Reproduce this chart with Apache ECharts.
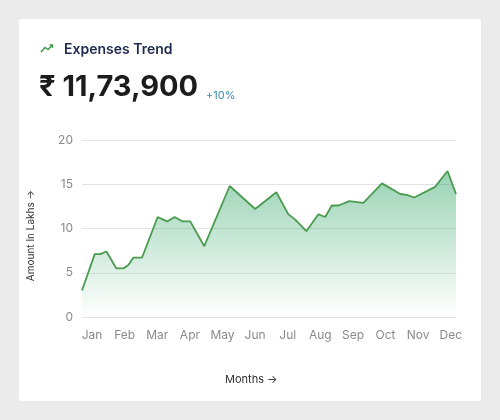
<!DOCTYPE html>
<html>
<head>
<meta charset="utf-8">
<script src="https://cdn.jsdelivr.net/npm/echarts@6/dist/echarts.min.js"></script>
<style>
  html, body { margin: 0; padding: 0; width: 500px; height: 420px; background: #ebebeb; overflow: hidden; }
  #card { position: absolute; left: 19px; top: 19px; width: 462px; height: 382px; background: #ffffff; border-radius: 3px; }
  #chart { position: absolute; left: 0; top: 0; width: 500px; height: 420px; }
</style>
</head>
<body>
<div id="card"></div>
<div id="chart"></div>
<script>
// Month tick labels
const months = ['Jan','Feb','Mar','Apr','May','Jun','Jul','Aug','Sep','Oct','Nov','Dec'];
// Positions of points in months (0 = Jan)
const xs = [-0.31, 0.08, 0.25, 0.44, 0.74, 0.97, 1.12, 1.26, 1.53, 2.01, 2.30, 2.53, 2.78, 3.01, 3.44, 4.22, 5.00, 5.65, 6.02, 6.23, 6.57, 6.94, 7.15, 7.35, 7.56, 7.89, 8.32, 8.89, 9.45, 9.65, 9.88, 10.52, 10.90, 11.16];
// Amount in lakhs
const amounts = [3.0, 7.1, 7.1, 7.4, 5.5, 5.5, 5.9, 6.7, 6.7, 11.3, 10.8, 11.3, 10.8, 10.8, 8.0, 14.8, 12.2, 14.1, 11.6, 11.0, 9.7, 11.6, 11.3, 12.6, 12.6, 13.1, 12.9, 15.1, 13.9, 13.8, 13.5, 14.7, 16.5, 13.9];
const yTicks = [0, 5, 10, 15, 20];

const FONT = 'Inter, "Noto Sans", "DejaVu Sans", sans-serif';
const chart = echarts.init(document.getElementById('chart'), null, { renderer: 'canvas' });
chart.setOption({
  backgroundColor: 'transparent',
  animation: false,
  textStyle: { fontFamily: FONT },
  grid: { left: 82, right: 44, top: 140, bottom: 103 },
  graphic: [
    { type: 'polyline', shape: { points: [[41,52],[45,47.5],[48,49.5],[52.5,45]] }, style: { stroke: '#3d9a4a', lineWidth: 1.5, fill: null } },
    { type: 'polyline', shape: { points: [[49.5,45],[52.5,45],[52.5,48]] }, style: { stroke: '#3d9a4a', lineWidth: 1.3, fill: null } },
    { type: 'text', left: 64, top: 43, style: { text: 'Expenses Trend', font: '600 14px ' + FONT, fill: '#1e2a4d' } },
    { type: 'text', left: 39, top: 73, style: { text: '₹ 11,73,900', font: '700 29px ' + FONT, fill: '#1c1c1c' } },
    { type: 'text', left: 206, top: 90, style: { text: '+10%', font: '400 11px ' + FONT, fill: '#3a8db0' } },
    { type: 'text', left: 225, top: 374, style: { text: 'Months →', font: '400 11px ' + FONT, fill: '#333333' } }
  ],
  xAxis: {
    type: 'value',
    min: xs[0],
    max: xs[xs.length - 1],
    splitLine: { show: false },
    axisLine: { show: false },
    axisTick: { show: false },
    axisLabel: {
      customValues: months.map((m, i) => i),
      formatter: v => months[Math.round(v)] || '',
      color: '#8a8a8a',
      fontSize: 12,
      margin: 12,
      fontFamily: FONT
    }
  },
  yAxis: {
    type: 'value',
    min: 0,
    max: 20,
    interval: 5,
    name: 'Amount In Lakhs →',
    nameLocation: 'middle',
    nameGap: 46,
    nameTextStyle: { color: '#333333', fontSize: 10, fontFamily: FONT, padding: [0, 14, 0, 0] },
    axisLine: { show: false },
    axisTick: { show: false },
    axisLabel: { color: '#8a8a8a', fontSize: 12, margin: 9, fontFamily: FONT, formatter: v => yTicks.includes(v) ? String(v) : '' },
    splitLine: { lineStyle: { color: '#e3e3e3', width: 1 } }
  },
  series: [{
    type: 'line',
    data: xs.map((x, i) => [x, amounts[i]]),
    showSymbol: false,
    smooth: false,
    lineStyle: { color: '#4a9b4f', width: 1.8 },
    areaStyle: {
      color: new echarts.graphic.LinearGradient(0, 0, 0, 1, [
        { offset: 0, color: 'rgba(60,170,110,0.75)' },
        { offset: 1, color: 'rgba(60,170,110,0)' }
      ])
    }
  }]
});
</script>
</body>
</html>
